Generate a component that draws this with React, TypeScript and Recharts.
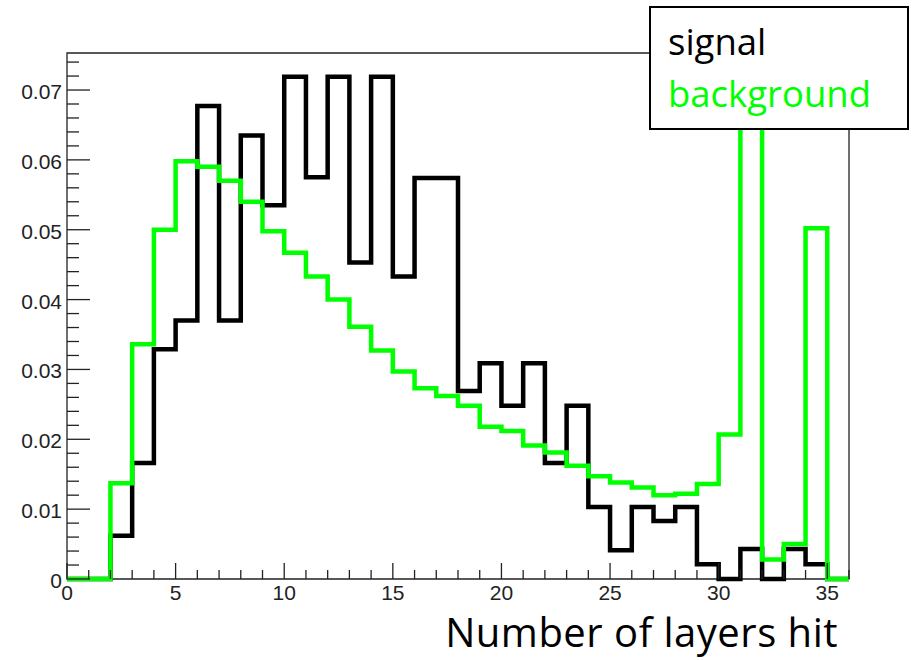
import React from 'react';
import { ComposedChart, Line, XAxis, YAxis, ReferenceArea, Legend } from 'recharts';

// Histogram bin lower edges (bin i spans [i, i+1]); the final edge closes the last bin.
const BIN_EDGES = [0, 1, 2, 3, 4, 5, 6, 7, 8, 9, 10, 11, 12, 13, 14, 15, 16, 17, 18, 19, 20, 21, 22, 23, 24, 25, 26, 27, 28, 29, 30, 31, 32, 33, 34, 35, 36];

// Normalised bin contents
const SIGNAL = [
  0, 0, 0.0062, 0.0166, 0.0329, 0.037, 0.0677, 0.037, 0.0635, 0.0535,
  0.0719, 0.0575, 0.0719, 0.0453, 0.0719, 0.0433, 0.0574, 0.0574, 0.0269, 0.0309,
  0.0248, 0.0309, 0.0166, 0.0248, 0.0103, 0.0041, 0.0103, 0.0083, 0.0103, 0.0021,
  0, 0.0043, 0, 0.0043, 0.0021, 0,
];
const BACKGROUND = [
  0, 0, 0.0137, 0.0336, 0.05, 0.0598, 0.059, 0.057, 0.054, 0.0498,
  0.0467, 0.0433, 0.04, 0.0361, 0.0327, 0.0297, 0.0273, 0.0262, 0.0248, 0.0218,
  0.0212, 0.0191, 0.0181, 0.0162, 0.0147, 0.0138, 0.0131, 0.012, 0.0122, 0.0136,
  0.0207, 0.08, 0.0028, 0.005, 0.0502, 0,
];

const SERIES_NAMES = ['signal', 'background'];
const SERIES_COLORS = ['#000000', '#00ff00'];

const X_TICKS = [0, 1, 2, 3, 4, 5, 6, 7, 8, 9, 10, 11, 12, 13, 14, 15, 16, 17, 18, 19, 20, 21, 22, 23, 24, 25, 26, 27, 28, 29, 30, 31, 32, 33, 34, 35, 36];
const X_LABELS = [0, 5, 10, 15, 20, 25, 30, 35];
const Y_TICKS = [
  0, 0.002, 0.004, 0.006, 0.008, 0.01, 0.012, 0.014, 0.016, 0.018,
  0.02, 0.022, 0.024, 0.026, 0.028, 0.03, 0.032, 0.034, 0.036, 0.038,
  0.04, 0.042, 0.044, 0.046, 0.048, 0.05, 0.052, 0.054, 0.056, 0.058,
  0.06, 0.062, 0.064, 0.066, 0.068, 0.07, 0.072, 0.074,
];
const Y_LABELS = [0, 0.01, 0.02, 0.03, 0.04, 0.05, 0.06, 0.07];
const X_DOMAIN = [0, 36];
const Y_DOMAIN = [0, 0.0753];
const X_TITLE = 'Number of layers hit';

const data = BIN_EDGES.map((x, i) => ({
  x,
  signal: SIGNAL[Math.min(i, SIGNAL.length - 1)],
  background: BACKGROUND[Math.min(i, BACKGROUND.length - 1)],
}));

const TICK_FONT = '"Liberation Sans", Arial, sans-serif';
const TEXT_FONT = '"Open Sans", "Noto Sans", sans-serif';

const isIn = (arr: number[], v: number) => arr.some((a) => Math.abs(a - v) < 1e-9);

const YTick = (props: any) => {
  const { x, y, payload } = props;
  const v = payload.value as number;
  const major = isIn(Y_LABELS, v);
  return (
    <g>
      <line x1={x} x2={x + (major ? 23 : 12)} y1={y} y2={y} stroke="#222" strokeWidth={1.3} />
      {major && (
        <text x={x - 5} y={y + 9} textAnchor="end" fontFamily={TICK_FONT} fontSize={21} fill="#222">
          {v === 0 ? '0' : v.toFixed(2)}
        </text>
      )}
    </g>
  );
};

const XTick = (props: any) => {
  const { x, y, payload } = props;
  const v = payload.value as number;
  const major = isIn(X_LABELS, v);
  return (
    <g>
      <line x1={x} x2={x} y1={y} y2={y - (major ? 16 : 9)} stroke="#222" strokeWidth={1.3} />
      {major && (
        <text x={x} y={y + 21} textAnchor="middle" fontFamily={TICK_FONT} fontSize={21} fill="#222">
          {String(v)}
        </text>
      )}
    </g>
  );
};

const LegendBox = (props: any) => {
  const payload = [...(props.payload || [])].sort(
    (a: any, b: any) => SERIES_NAMES.indexOf(a.value) - SERIES_NAMES.indexOf(b.value)
  );
  return (
    <svg width={260} height={124} style={{ display: 'block' }}>
      <rect x={1} y={1} width={258} height={122} fill="#fff" stroke="#000" strokeWidth={2} />
      {payload.map((entry: any, i: number) => (
        <text
          key={entry.value}
          x={19}
          y={49 + i * 52}
          fontFamily={TEXT_FONT}
          fontSize={36.5}
          fill={entry.color}
        >
          {entry.value}
        </text>
      ))}
    </svg>
  );
};

const XTitle = (props: any) => {
  const vb = props.viewBox || { x: 67, y: 579, width: 782, height: 81 };
  return (
    <text
      x={vb.x + vb.width - 11}
      y={vb.y + 68}
      textAnchor="end"
      fontFamily={TEXT_FONT}
      fontSize={40}
      letterSpacing={0.5}
      fill="#000"
    >
      {X_TITLE}
    </text>
  );
};

export default function App() {
  return (
    <div style={{ position: 'absolute', left: 0, top: 0, width: 912, height: 660, background: '#fff' }}>
      <style>{`.recharts-line, .recharts-line * { clip-path: none !important; }`}</style>
      <ComposedChart
        width={912}
        height={660}
        data={data}
        margin={{ top: 53, right: 63, bottom: 0, left: 0 }}
      >
        <XAxis
          dataKey="x"
          type="number"
          domain={X_DOMAIN}
          ticks={X_TICKS}
          interval={0}
          height={81}
          tickSize={0}
          tickMargin={0}
          axisLine={false}
          tickLine={false}
          tick={<XTick />}
          label={{ content: <XTitle /> }}
        />
        <YAxis
          type="number"
          domain={Y_DOMAIN}
          allowDataOverflow
          ticks={Y_TICKS}
          interval={0}
          width={67}
          tickSize={0}
          tickMargin={0}
          axisLine={false}
          tickLine={false}
          tick={<YTick />}
        />
        <ReferenceArea
          x1={X_DOMAIN[0]}
          x2={X_DOMAIN[1]}
          y1={Y_DOMAIN[0]}
          y2={Y_DOMAIN[1]}
          fill="none"
          fillOpacity={0}
          stroke="#222"
          strokeWidth={1.3}
          strokeOpacity={1}
        />
        <Line
          dataKey="signal"
          name={SERIES_NAMES[0]}
          type="stepAfter"
          stroke={SERIES_COLORS[0]}
          strokeWidth={4.5}
          dot={false}
          activeDot={false}
          isAnimationActive={false}
        />
        <Line
          dataKey="background"
          name={SERIES_NAMES[1]}
          type="stepAfter"
          stroke={SERIES_COLORS[1]}
          strokeWidth={4.5}
          dot={false}
          activeDot={false}
          isAnimationActive={false}
        />
        <Legend
          layout="vertical"
          align="center"
          verticalAlign="middle"
          itemSorter={null as any}
          wrapperStyle={{ position: 'absolute', left: 649, top: 6, width: 260, height: 124, margin: 0, padding: 0 }}
          content={<LegendBox />}
        />
      </ComposedChart>
    </div>
  );
}
